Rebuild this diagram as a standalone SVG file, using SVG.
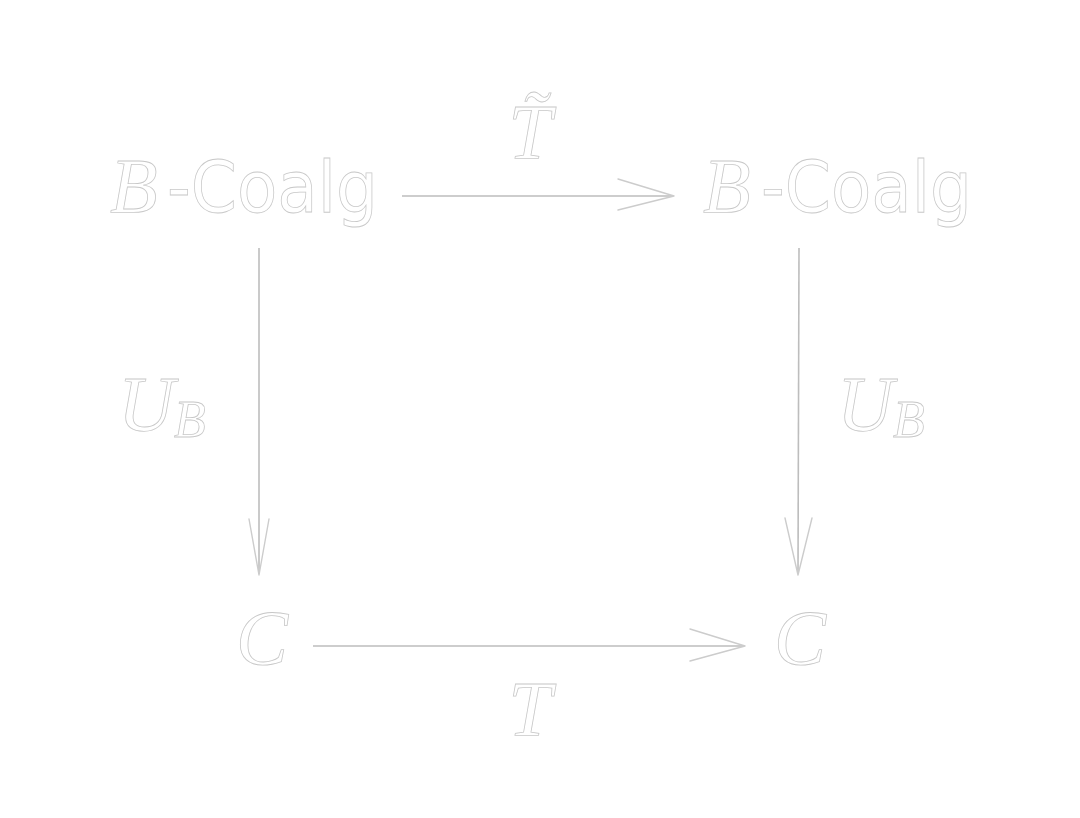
<svg xmlns="http://www.w3.org/2000/svg" width="1080" height="818" viewBox="0 0 1080 818">
<style>
.bg{fill:#ffffff}
.math{font-family:"Liberation Serif","DejaVu Serif",serif;font-style:italic;fill:#ffffff;stroke:#c8c8c8;stroke-width:0.8}
.sans{font-family:"DejaVu Sans","Liberation Sans",sans-serif;fill:#ffffff;stroke:#c8c8c8;stroke-width:0.8}
.edge{stroke:#bdbdbd;stroke-width:1.6;fill:none}
.head{stroke:#cccccc;stroke-width:1.4;fill:none;stroke-linecap:round;stroke-linejoin:round}
</style>
<rect class="bg" x="0" y="0" width="1080" height="818"/>
<g id="connectors">
  <g id="e-top">
    <line class="edge" x1="402" y1="196" x2="673" y2="196"/>
    <polyline class="head" points="618,179 674,196 618,210"/>
  </g>
  <g id="e-bottom">
    <line class="edge" x1="313" y1="646" x2="744" y2="646"/>
    <polyline class="head" points="690,629 745,646 690,661"/>
  </g>
  <g id="e-left">
    <line class="edge" x1="259" y1="248" x2="259" y2="574"/>
    <polyline class="head" points="249,519 259,575 269,519"/>
  </g>
  <g id="e-right">
    <line class="edge" x1="799" y1="248" x2="798" y2="574"/>
    <polyline class="head" points="785,518 798,575 812,518"/>
  </g>
</g>
<g id="n-tl">
  <text class="math" x="110" y="212" font-size="78">B</text>
  <text class="sans" x="167" y="212" font-size="72" textLength="211" lengthAdjust="spacingAndGlyphs">-Coalg</text>
</g>
<g id="n-tr">
  <text class="math" x="703" y="212" font-size="78">B</text>
  <text class="sans" x="761" y="212" font-size="72" textLength="211" lengthAdjust="spacingAndGlyphs">-Coalg</text>
</g>
<g id="n-bl">
  <text class="math" x="236" y="664" font-size="78">C</text>
</g>
<g id="n-br">
  <text class="math" x="774" y="664" font-size="78">C</text>
</g>
<g id="l-top">
  <text class="math" x="530" y="158" font-size="78" text-anchor="middle">T&#x303;</text>
</g>
<g id="l-bottom">
  <text class="math" x="530" y="735" font-size="78" text-anchor="middle">T</text>
</g>
<g id="l-left">
  <text class="math" x="118" y="430" font-size="78">U</text>
  <text class="math" x="174" y="437" font-size="52">B</text>
</g>
<g id="l-right">
  <text class="math" x="837" y="430" font-size="78">U</text>
  <text class="math" x="893" y="437" font-size="52">B</text>
</g>
</svg>
